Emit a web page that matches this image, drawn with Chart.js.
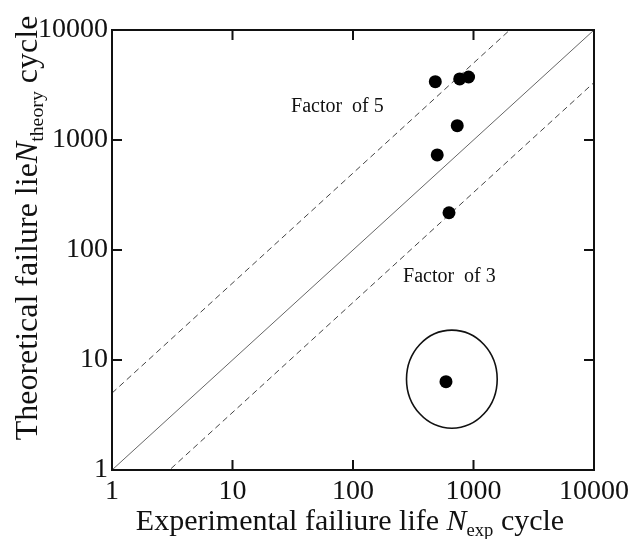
<!DOCTYPE html>
<html>
<head>
<meta charset="utf-8">
<script src="https://cdn.jsdelivr.net/npm/chart.js@4.4.1/dist/chart.umd.min.js"></script>
<style>
  html, body { margin: 0; padding: 0; background: #fff; }
  #wrap { width: 632px; height: 539px; }
</style>
</head>
<body>
<div id="wrap"><canvas id="lifeChart" width="632" height="539"></canvas></div>
<script>
// fatigue life: experiment vs. theory (cycles)
const decadeTicks = [1, 10, 100, 1000, 10000];
const expLife = [482, 768, 910, 733, 500, 626, 591];
const theoryLife = [3390, 3590, 3740, 1350, 731, 218, 6.35];
const factorUpper = 5;
const factorLower = 3;
const lineEnds = [1, 10000];
// outlier ring, in data units
const ringX = [278, 1573];
const ringY = [2.4, 18.7];

const SERIF = "'Liberation Serif', 'Times New Roman', serif";
const INK = "#111";

const points = expLife.map((x, i) => ({ x, y: theoryLife[i] }));
const lineOf = f => lineEnds.map(x => ({ x, y: x * f }));

// draws a run of text pieces (plain / italic / subscript) from the left
function drawRich(ctx, parts, size, x, y) {
  let cx = x;
  parts.forEach(p => {
    const fs = p.sub ? size * 0.62 : size;
    ctx.font = (p.italic ? "italic " : "") + fs + "px " + SERIF;
    ctx.fillText(p.text, cx, p.sub ? y + size * 0.2 : y);
    cx += ctx.measureText(p.text).width;
  });
}
function richWidth(ctx, parts, size) {
  let w = 0;
  parts.forEach(p => {
    const fs = p.sub ? size * 0.62 : size;
    ctx.font = (p.italic ? "italic " : "") + fs + "px " + SERIF;
    w += ctx.measureText(p.text).width;
  });
  return w;
}

const xTitle = [
  { text: "Experimental failiure life " },
  { text: "N", italic: true },
  { text: "exp", sub: true },
  { text: " cycle" }
];
const yTitle = [
  { text: "Theoretical failure lie" },
  { text: "N", italic: true },
  { text: "theory", sub: true },
  { text: " cycle" }
];

const decorPlugin = {
  id: "decor",
  afterDatasetsDraw(chart) {
    const { ctx, chartArea: a, scales } = chart;
    const sx = scales.x, sy = scales.y;
    ctx.save();

    // frame with inward ticks on all four sides
    ctx.strokeStyle = INK;
    ctx.lineWidth = 2;
    ctx.strokeRect(a.left, a.top, a.right - a.left, a.bottom - a.top);
    const tl = 10;
    ctx.beginPath();
    decadeTicks.slice(1, -1).forEach(v => {
      const px = sx.getPixelForValue(v);
      ctx.moveTo(px, a.bottom); ctx.lineTo(px, a.bottom - tl);
      ctx.moveTo(px, a.top); ctx.lineTo(px, a.top + tl);
      const py = sy.getPixelForValue(v);
      ctx.moveTo(a.left, py); ctx.lineTo(a.left + tl, py);
      ctx.moveTo(a.right, py); ctx.lineTo(a.right - tl, py);
    });
    ctx.stroke();

    // ring around the low point
    const x0 = sx.getPixelForValue(ringX[0]), x1 = sx.getPixelForValue(ringX[1]);
    const y0 = sy.getPixelForValue(ringY[1]), y1 = sy.getPixelForValue(ringY[0]);
    ctx.lineWidth = 1.6;
    ctx.beginPath();
    ctx.ellipse((x0 + x1) / 2, (y0 + y1) / 2, (x1 - x0) / 2, (y1 - y0) / 2, 0, 0, Math.PI * 2);
    ctx.stroke();

    // factor labels
    ctx.fillStyle = INK;
    ctx.font = "20px " + SERIF;
    ctx.textBaseline = "middle";
    ctx.textAlign = "left";
    ctx.fillText("Factor  of 5", sx.getPixelForValue(30.6), sy.getPixelForValue(1995));
    ctx.fillText("Factor  of 3", sx.getPixelForValue(260), sy.getPixelForValue(57));

    // axis titles
    ctx.textBaseline = "alphabetic";
    const wx = richWidth(ctx, xTitle, 30);
    drawRich(ctx, xTitle, 30, 350 - wx / 2, 530);

    const wy = richWidth(ctx, yTitle, 32);
    ctx.translate(37, 228);
    ctx.rotate(-Math.PI / 2);
    drawRich(ctx, yTitle, 32, -wy / 2, 0);
    ctx.restore();
  }
};

const axisCommon = {
  type: "logarithmic",
  min: 1,
  max: 10000,
  afterBuildTicks: s => { s.ticks = decadeTicks.map(v => ({ value: v })); },
  grid: { display: false, drawTicks: false },
  border: { display: false },
  ticks: {
    font: { family: SERIF, size: 28 },
    color: INK,
    autoSkip: false,
    maxRotation: 0,
    callback: v => String(v)
  }
};

new Chart(document.getElementById("lifeChart"), {
  type: "scatter",
  data: {
    datasets: [
      {
        label: "data",
        data: points,
        order: 0,
        pointRadius: 6.5,
        pointHoverRadius: 6.5,
        backgroundColor: "#000",
        borderWidth: 0
      },
      {
        label: "1:1",
        data: lineOf(1),
        order: 1,
        showLine: true,
        pointRadius: 0,
        borderColor: "#666",
        borderWidth: 1
      },
      {
        label: "x5",
        data: lineOf(factorUpper),
        order: 1,
        showLine: true,
        pointRadius: 0,
        borderColor: "#444",
        borderWidth: 1,
        borderDash: [6, 4]
      },
      {
        label: "/3",
        data: lineOf(1 / factorLower),
        order: 1,
        showLine: true,
        pointRadius: 0,
        borderColor: "#444",
        borderWidth: 1,
        borderDash: [6, 4]
      }
    ]
  },
  options: {
    responsive: false,
    animation: false,
    devicePixelRatio: 1,
    layout: { padding: { top: 30, right: 38, left: 0, bottom: 0 } },
    plugins: { legend: { display: false }, tooltip: { enabled: false } },
    scales: {
      x: {
        ...axisCommon,
        ticks: { ...axisCommon.ticks, padding: 5 },
        afterFit: s => { s.height = 69; s.paddingLeft = 0; s.paddingRight = 0; }
      },
      y: {
        ...axisCommon,
        ticks: { ...axisCommon.ticks, padding: 4 },
        afterFit: s => { s.width = 112; s.paddingTop = 0; s.paddingBottom = 0; }
      }
    }
  },
  plugins: [decorPlugin]
});
</script>
</body>
</html>
